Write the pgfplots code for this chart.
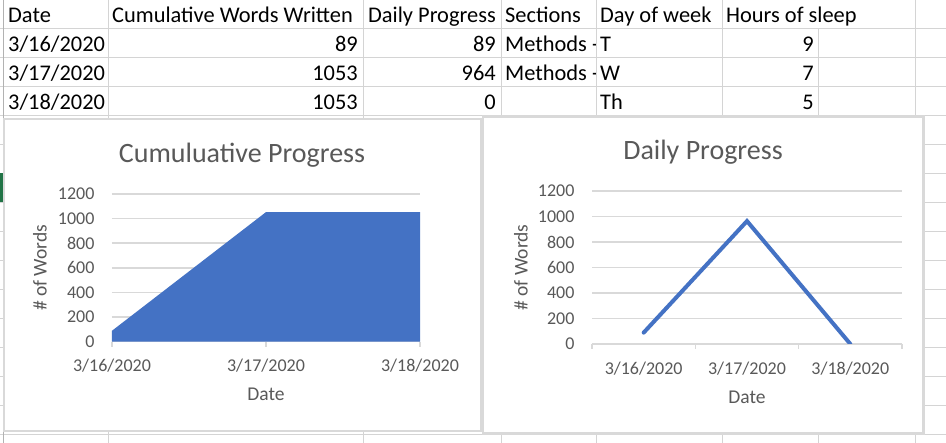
\documentclass[border=0pt]{standalone}
\usepackage{pgfplots}
\pgfplotsset{compat=1.18}
\usepackage{fontspec}
\setmainfont{Carlito}
\definecolor{cblue}{HTML}{4472C4}
\definecolor{ctext}{HTML}{595959}
\definecolor{cgrid}{HTML}{D9D9D9}
\definecolor{xlgrid}{HTML}{D4D4D4}
\definecolor{xlgreen}{HTML}{217346}
\pgfplotsset{
  xlchart/.style={
    scale only axis,
    axis lines*=left,
    x axis line style={-, draw=cgrid, line width=1.5pt},
    y axis line style={draw=none},
    ymin=0, ymax=1200,
    ytick={0,200,...,1200},
    ymajorgrids,
    major grid style={draw=cgrid, line width=1.5pt},
    tick align=outside,
    major tick length=5pt,
    xtick style={draw=cgrid, line width=1.5pt},
    ytick style={draw=none},
    ticklabel style={font=\fontsize{18}{18}\selectfont, text=ctext},
    /pgf/number format/assume math mode=true,
    /pgf/number format/1000 sep={},
    yticklabel style={xshift=-9pt},
    title style={font=\fontsize{28}{28}\selectfont, text=ctext, anchor=center},
    label style={font=\fontsize{19.5}{20}\selectfont, text=ctext, anchor=center},
  }
}
\begin{document}
\begin{tikzpicture}
\useasboundingbox (0pt,0pt) rectangle (946pt,-443pt);
\fill[white] (0pt,0pt) rectangle (946pt,-443pt);
\begin{scope}[x=1pt,y=-1pt]
  % spreadsheet grid
  \foreach \yy in {28.5,57.5,86.5,115.5,144.5,173.5,202.5,231.5,260.5,289.5,318.5,347.5,376.5,405.5,434.5}
    \draw[xlgrid, line width=1pt] (0,\yy) -- (946,\yy);
  \foreach \xx in {108,363,501,596,722,915}
    \draw[xlgrid, line width=1pt] (\xx,0) -- (\xx,443);
  \draw[xlgrid, line width=1pt] (818,28.5) -- (818,443);
  \draw[gray!60, line width=1pt] (3,0) -- (3,443);
  \fill[xlgreen] (0,173.5) rectangle (2.5,202.5);
  % cells
  \begin{scope}[every node/.style={inner sep=0pt, font=\fontsize{22.4}{23}\selectfont, text=black}]
    \node[anchor=base west] at (8,23) {Date};
    \node[anchor=base west] at (112,23) {Cumulative Words Written};
    \node[anchor=base west] at (368,23) {Daily Progress};
    \node[anchor=base west] at (505,23) {Sections};
    \node[anchor=base west] at (600,23) {Day of week};
    \node[anchor=base west] at (726,23) {Hours of sleep};
    % row 1
    \node[anchor=base west] at (8,52) {3/16/2020};
    \node[anchor=base east] at (358,52) {89};
    \node[anchor=base east] at (496,52) {89};
    \begin{scope}
      \clip (501,29) rectangle (595.5,86);
      \node[anchor=base west] at (505,52) {Methods -};
      \node[anchor=base west] at (505,81) {Methods -};
    \end{scope}
    \node[anchor=base west] at (600,52) {T};
    \node[anchor=base east] at (814,52) {9};
    % row 2
    \node[anchor=base west] at (8,81) {3/17/2020};
    \node[anchor=base east] at (358,81) {1053};
    \node[anchor=base east] at (496,81) {964};
    \node[anchor=base west] at (600,81) {W};
    \node[anchor=base east] at (814,81) {7};
    % row 3
    \node[anchor=base west] at (8,110) {3/18/2020};
    \node[anchor=base east] at (358,110) {1053};
    \node[anchor=base east] at (496,110) {0};
    \node[anchor=base west] at (600,110) {Th};
    \node[anchor=base east] at (814,110) {5};
  \end{scope}
  % chart frames
  \filldraw[fill=white, draw=cgrid, line width=2pt] (3.5,119) rectangle (481,431);
  \filldraw[fill=white, draw=cgrid, line width=2.5pt] (483,116.5) rectangle (923.5,433.5);
\end{scope}

% Chart 1: cumulative (area)
\begin{axis}[xlchart,
  at={(112pt,-341.7pt)}, anchor=south west,
  width=308pt, height=147.7pt,
  xmin=0, xmax=2,
  xtick={0,1,2},
  xticklabels={3/16/2020,3/17/2020,3/18/2020},
  xticklabel style={yshift=-9pt},
  title={Cumuluative Progress},
  title style={at={(axis description cs:0.5,1)}, xshift=-24pt, yshift=33pt},
  xlabel={Date},
  xlabel style={at={(axis description cs:0.5,0)}, yshift=-53pt},
  ylabel={\# of Words},
  ylabel style={at={(axis description cs:0,0.5)}, yshift=72pt},
]
\addplot[fill=cblue, draw=none] coordinates {(0,89) (1,1053) (2,1053)} \closedcycle;
\end{axis}

% Chart 2: daily (line)
\begin{axis}[xlchart,
  at={(592pt,-344pt)}, anchor=south west,
  width=310pt, height=153pt,
  xmin=-0.5, xmax=2.5,
  xtick={-0.5,0.5,1.5,2.5},
  x tick label as interval,
  xticklabels={3/16/2020,3/17/2020,3/18/2020},
  xticklabel style={yshift=-9pt},
  title={Daily Progress},
  title style={at={(axis description cs:0.5,1)}, xshift=-44pt, yshift=33pt},
  xlabel={Date},
  xlabel style={at={(axis description cs:0.5,0)}, yshift=-53pt},
  ylabel={\# of Words},
  ylabel style={at={(axis description cs:0,0.5)}, yshift=71pt},
]
\addplot[cblue, line width=4pt, line cap=round, line join=miter, mark=none] coordinates {(0,89) (1,964) (2,0)};
\end{axis}
\end{tikzpicture}
\end{document}
